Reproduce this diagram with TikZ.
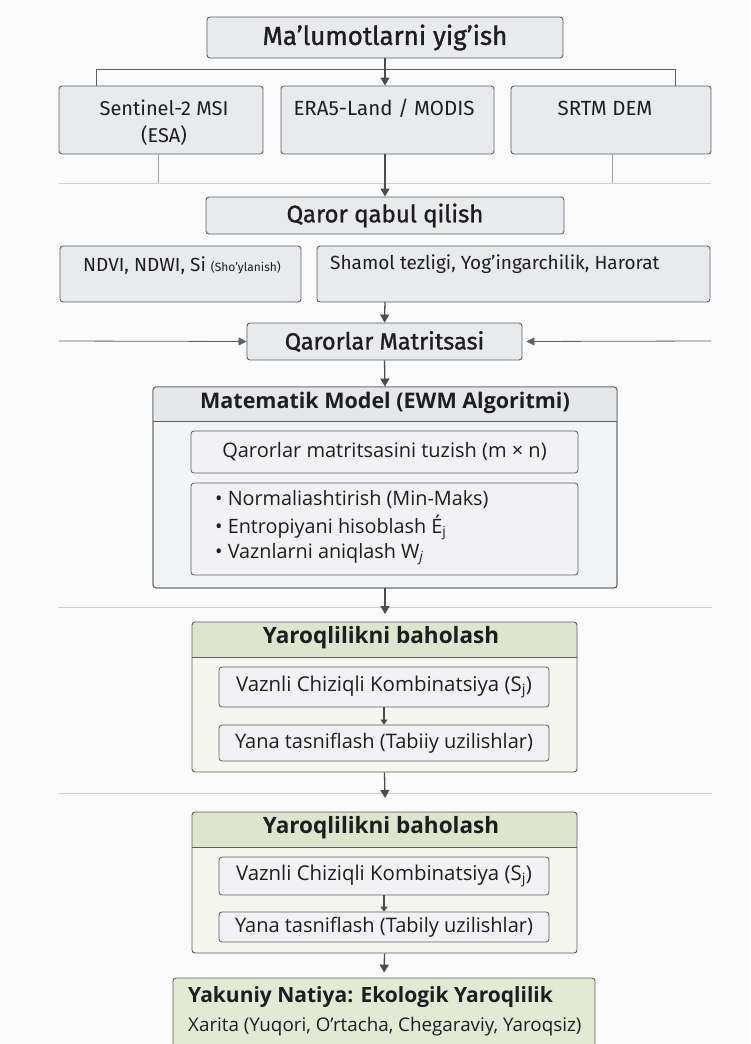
\documentclass[tikz,border=0pt]{standalone}
\usepackage{fontspec}
\setmainfont{Open Sans}
\newfontfamily\firaf{Fira Sans}
\newfontfamily\firam{Fira Sans}[FakeBold=1.2]
\usetikzlibrary{arrows.meta}
\definecolor{bgc}{HTML}{FBFBFB}
\definecolor{boxf}{HTML}{E9EAEE}
\definecolor{boxd}{HTML}{5F5F5F}
\definecolor{ewmh}{HTML}{E5E7EB}
\definecolor{ewmb}{HTML}{F3F4F6}
\definecolor{grh}{HTML}{DEE5CF}
\definecolor{grb}{HTML}{F4F6EF}
\definecolor{fin}{HTML}{E2E9D5}
\definecolor{sep}{HTML}{CFCFCF}
\definecolor{txt}{HTML}{1E1E1E}
\tikzset{
  box/.style={draw=boxd, line width=0.9pt, fill=boxf, rounded corners=3pt, inner sep=0pt, text=txt},
  inbox/.style={draw=boxd, line width=0.8pt, fill=boxf!60!white, rounded corners=3pt, inner sep=0pt, text=txt},
  lbl/.style={inner sep=0pt, text=txt},
  arr/.style={draw=boxd!80!black, line width=1.3pt, -{Triangle[length=8pt,width=9pt]}},
  sarr/.style={draw=boxd!80!black, line width=1.1pt, -{Triangle[length=5pt,width=7pt]}},
  harr/.style={draw=boxd, line width=0.8pt, -{Triangle[length=8pt,width=8pt]}},
  conn/.style={draw=boxd, line width=0.8pt},
  sepl/.style={draw=sep, line width=1pt},
  fhead/.style={font=\firam\fontsize{#1}{#1}\selectfont},
  ftxt/.style={font=\firaf\fontsize{#1}{#1}\selectfont},
  otxt/.style={font=\fontsize{#1}{#1}\selectfont},
  ohead/.style={font=\fontsize{#1}{#1}\selectfont\bfseries},
}
\begin{document}
\begin{tikzpicture}[x=1pt,y=-1pt]
\useasboundingbox (0,0) rectangle (750,1044);
\clip (0,0) rectangle (750,1044);
\fill[bgc] (0,0) rectangle (750,1044);

% top section
\node[box, fhead=26, minimum width=356pt, minimum height=41pt] (top) at (385,37.5) {Ma’lumotlarni yig’ish};
\node[box, minimum width=204pt, minimum height=68pt] (sent) at (161,120) {};
\node[box, minimum width=213pt, minimum height=68pt] (era) at (387.5,120) {};
\node[box, minimum width=200pt, minimum height=68pt] (srtm) at (611,120) {};
\node[lbl, ftxt=20, align=center] (sentT) at (164,108) {Sentinel-2 MSI};
\node[lbl, ftxt=20, align=center] (sentT2) at (164,135) {(ESA)};
\node[lbl, ftxt=20.5] (eraT) at (384,108) {ERA5-Land / MODIS};
\node[lbl, ftxt=20.5] (srtmT) at (605,108) {SRTM DEM};

\coordinate (bl) at (96,69);
\coordinate (br) at (675,69);
\draw[conn] (96,86) -- (bl) -- (br) -- (675,86);
\draw[arr] (top.south) -- (top.south |- era.north);

\coordinate (gl1) at (59,183);
\coordinate (gr1) at (711,183);
\draw[sepl] (gl1) -- (gr1);
\draw[conn, draw=boxd!60] (158,154) -- (158,183);
\draw[conn, draw=boxd!60] (612,154) -- (612,183);

\node[box, fhead=24, minimum width=358pt, minimum height=37pt] (qaror) at (385,215.5) {Qaror qabul qilish};
\draw[arr] (385,154) -- (qaror.north);

\node[box, minimum width=241pt, minimum height=56pt] (ndvi) at (180.5,274) {};
\node[lbl, ftxt=19] (ndviT) at (182,266) {NDVI, NDWI, Si {\fontsize{12}{12}\selectfont(Sho’ylanish)}};
\node[box, minimum width=393pt, minimum height=56pt] (sham) at (513.5,274) {};
\node[lbl, ftxt=19, anchor=west] (shamT) at (330,264) {Shamol tezligi, Yog’ingarchilik, Harorat};

\node[box, fhead=23.5, minimum width=275pt, minimum height=37pt] (qm) at (384.5,341.5) {Qarorlar Matritsasi};
\draw[arr] (385,302) -- (qm.north);
\coordinate (ql) at (59,341);
\coordinate (qr) at (711,341);
\draw[harr] (ql) -- (qm.west);
\draw[harr, shorten >=4pt] (qr) -- (qm.east);

% EWM block
\node[box, fill=ewmb, minimum width=464pt, minimum height=201pt] (ewm) at (385,487.5) {};
\begin{scope}
\clip[rounded corners=3pt] (153,387) rectangle (617,588);
\fill[ewmh] (153,387) rectangle (617,421);
\end{scope}
\draw[boxd, line width=0.9pt, rounded corners=3pt] (153,387) rectangle (617,588);
\draw[boxd, line width=0.8pt] (153,421) -- (617,421);
\node[lbl, ohead=21.5] (ewmT) at (385,403) {Matematik Model (EWM Algoritmi)};
\draw[arr] (qm.south) -- (ewm.north);

\node[inbox, otxt=20, minimum width=387pt, minimum height=42pt] (in1) at (384.5,452) {Qarorlar matritsasini tuzish (m × n)};
\node[inbox, minimum width=387pt, minimum height=92pt] (in2) at (384.5,529) {};
\node[lbl, otxt=19.8, anchor=west] (b1) at (215,500) {• Normaliashtirish (Min-Maks)};
\node[lbl, otxt=19.8, anchor=west] (b2) at (215,527) {• Entropiyani hisoblash É\textsubscript{j}};
\node[lbl, otxt=19.8, anchor=west] (b3) at (215,554) {• Vaznlarni aniqlash W\textsubscript{\itshape j}};

\coordinate (gl2) at (58,607);
\coordinate (gr2) at (712,607);
\draw[sepl] (gl2) -- (gr2);
\coordinate (a2) at (385,614);
\draw[arr] (ewm.south) -- (a2);

% Yaroqlilik 1
\begin{scope}
\clip[rounded corners=3pt] (192,622) rectangle (577,772);
\fill[grb] (192,622) rectangle (577,772);
\fill[grh] (192,622) rectangle (577,657);
\end{scope}
\node[draw=boxd, line width=0.9pt, rounded corners=3pt, minimum width=385pt, minimum height=150pt, inner sep=0pt] (yq1) at (384.5,697) {};
\draw[boxd, line width=0.8pt] (192,657) -- (577,657);
\node[lbl, ohead=22.5] (yq1T) at (381,638) {Yaroqlilikni baholash};
\node[inbox, otxt=20.4, minimum width=330pt, minimum height=40pt] (yq1a) at (384,687) {Vaznli Chiziqli Kombinatsiya (S\textsubscript{j})};
\node[inbox, otxt=20, minimum width=330pt, minimum height=36pt] (yq1b) at (384,743) {Yana tasniflash (Tabiiy uzilishlar)};
\draw[sarr] (yq1a.south) -- (yq1b.north);

\coordinate (gl3) at (58,793);
\coordinate (gr3) at (712,793);
\draw[sepl] (gl3) -- (gr3);
\coordinate (a3) at (385,798);
\draw[arr] (yq1.south) -- (a3);

% Yaroqlilik 2
\begin{scope}
\clip[rounded corners=3pt] (192,812) rectangle (577,953);
\fill[grb] (192,812) rectangle (577,953);
\fill[grh] (192,812) rectangle (577,847);
\end{scope}
\node[draw=boxd, line width=0.9pt, rounded corners=3pt, minimum width=385pt, minimum height=141pt, inner sep=0pt] (yq2) at (384.5,882.5) {};
\draw[boxd, line width=0.8pt] (192,847) -- (577,847);
\node[lbl, ohead=22.5] (yq2T) at (381,828) {Yaroqlilikni baholash};
\node[inbox, otxt=20.4, minimum width=330pt, minimum height=38pt] (yq2a) at (384,876) {Vaznli Chiziqli Kombinatsiya (S\textsubscript{j})};
\node[inbox, otxt=20, minimum width=330pt, minimum height=30pt] (yq2b) at (384,927) {Yana tasniflash (Tabily uzilishlar)};
\draw[sarr] (yq2a.south) -- (yq2b.north);

% Final
\node[draw=boxd, line width=0.9pt, fill=fin, rounded corners=3pt, minimum width=422pt, minimum height=80pt, inner sep=0pt] (fin) at (384,1018) {};
\draw[arr, shorten >=5pt] (yq2.south) -- (fin.north);
\node[lbl, ohead=21, anchor=west] (finT) at (188,997) {Yakuniy Natiya: Ekologik Yaroqlilik};
\node[lbl, otxt=18.8, anchor=west] (finS) at (188,1027) {Xarita (Yuqori, O’rtacha, Chegaraviy, Yaroqsiz)};
\end{tikzpicture}
\end{document}
